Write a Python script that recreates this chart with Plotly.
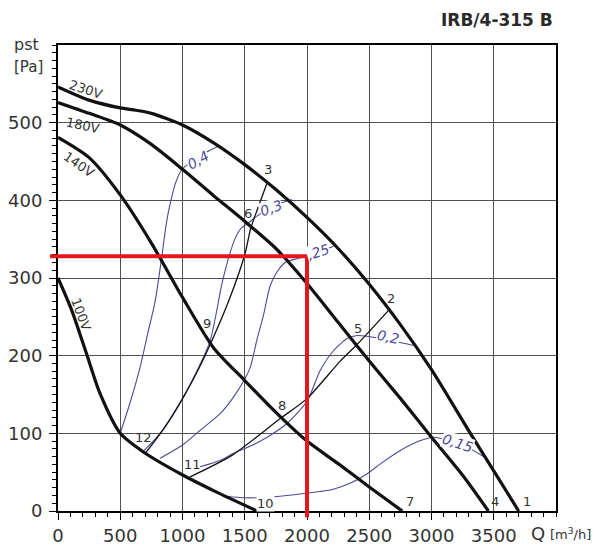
import plotly.graph_objects as go

# ---------------- data (Q in m3/h, p_st in Pa) ----------------
Q_MAX, P_MAX = 4000, 600
x_ticks = [0, 500, 1000, 1500, 2000, 2500, 3000, 3500]
y_ticks = [0, 100, 200, 300, 400, 500]

# fan curves at different voltages
q_230 = [0, 250, 500, 625, 750, 1000, 1250, 1500, 1750, 2000, 2250, 2500, 2750, 3000, 3312, 3700]
p_230 = [546, 529, 519, 516, 512, 497, 474, 446, 414, 378, 338, 292, 240, 182, 100, 0]
q_180 = [0, 250, 500, 750, 1000, 1250, 1500, 1750, 2000, 2250, 2500, 2750, 3000, 3250, 3457]
p_180 = [526, 512, 497, 472, 440, 406, 373, 338, 293, 243, 193, 145, 95, 46, 0]
q_140 = [0, 250, 500, 750, 1000, 1250, 1500, 1750, 2000, 2250, 2500, 2765]
p_140 = [481, 455, 407, 345, 275, 210, 168, 127, 90, 61, 31, 0]
q_100 = [0, 111, 228, 338, 500, 686, 1005, 1278, 1600]
p_100 = [300, 258, 203, 151, 100, 76, 46, 24, 0]

# system curves (thin black)
q_sysA = [700, 850, 1005, 1120, 1235, 1370, 1500, 1548, 1610, 1678]
p_sysA = [74, 106, 146, 180, 219, 270, 330, 364, 392, 422]
q_sysB = [1061, 1400, 1785, 2002, 2267, 2400, 2653]
p_sysB = [44, 72, 119, 145, 193, 214, 258]

# current iso-lines (thin blue)
q_i04 = [500, 580, 659, 720, 780, 836, 870, 900, 950, 997, 1040, 1150, 1240, 1290]
p_i04 = [100, 140, 185, 228, 270, 330, 370, 395, 425, 440, 446, 458, 466, 470]
q_i03 = [680, 800, 900, 1005, 1100, 1222, 1316, 1370, 1423, 1470, 1517, 1600, 1750, 1880]
p_i03 = [76, 96, 118, 146, 175, 219, 292, 326, 351, 364, 369, 380, 394, 401]
q_i025 = [820, 1000, 1142, 1300, 1407, 1500, 1544, 1600, 1650, 1704, 1760, 1825, 1900, 1970, 2100, 2211]
p_i025 = [68, 85, 104, 125, 146, 170, 185, 222, 252, 290, 308, 320, 324, 327, 334, 341]
q_i02 = [1142, 1300, 1407, 1550, 1680, 1841, 2002, 2106, 2211, 2323, 2404, 2600, 2854]
p_i02 = [57, 65, 74, 84, 95, 113, 142, 181, 206, 222, 226, 222, 213]
q_i015 = [1350, 1500, 1700, 1900, 2100, 2211, 2350, 2484, 2600, 2750, 2900, 3015, 3250, 3450]
p_i015 = [19, 17, 18, 21, 25, 28, 36, 48, 62, 78, 90, 95, 85, 67]

# operating point (red)
op_q, op_p = 2000, 328
red_q = [-64, op_q, op_q]
red_p = [op_p, op_p, -8]

# labels
volt_text = ["230V", "180V", "140V", "100V"]
volt_q = [225, 201, 169, 185]
volt_p = [543, 497, 446, 253]
volt_ang = [18, 12, 35, 70]

num_text = ["1", "2", "3", "4", "5", "6", "7", "8", "9", "10", "11", "12"]
num_q = [3771, 2678, 1688, 3514, 2412, 1528, 2830, 1801, 1198, 1664, 1077, 683]
num_p = [12, 274, 440, 12, 235, 383, 12, 136, 242, 10, 60, 95]

cur_text = ["0,4", "0,3", ",25", "0,2", "0,15"]
cur_q = [1126, 1713, 2085, 2653, 3208]
cur_p = [452, 390, 334, 224, 87]
cur_ang = [-30, -20, -18, 12, 18]

title_text = "IRB/4-315 B"

# ---------------- geometry (reference pixel coordinates) ----------------
W, H = 600, 549
OFF = 8                        # default page body margin of the html page
ML, MR, MT, MB = 30, 44, 45, 20
AX_L, AX_B = 58, 511           # pixel position of axis origin
pw, ph = W - ML - MR, H - MT - MB
xd0 = (AX_L - ML) / pw
yd0 = (H - MB - AX_B) / ph
x2_left = -xd0 / (1 - xd0) * Q_MAX
y2_bot = -yd0 / (1 - yd0) * P_MAX

def px(xp):
    return (xp - ML) / pw

def py(yp):
    return (H - MB - yp) / ph

BLUE = "#4a4a98"
TXT = "#333333"

fig = go.Figure()

def add_line(q, p, color, width):
    fig.add_trace(go.Scatter(x=q, y=p, mode="lines",
                             line=dict(color=color, width=width, shape="spline", smoothing=0.7),
                             hoverinfo="skip", showlegend=False))

for q, p in [(q_i04, p_i04), (q_i03, p_i03), (q_i025, p_i025), (q_i02, p_i02), (q_i015, p_i015)]:
    add_line(q, p, BLUE, 1.1)
for q, p in [(q_sysA, p_sysA), (q_sysB, p_sysB)]:
    add_line(q, p, "#111111", 1.3)
for q, p in [(q_230, p_230), (q_180, p_180), (q_140, p_140), (q_100, p_100)]:
    add_line(q, p, "#111111", 3.2)

fig.add_trace(go.Scatter(x=red_q, y=red_p, xaxis="x2", yaxis="y2", mode="lines",
                         line=dict(color="#e4161e", width=4), hoverinfo="skip", showlegend=False))

ann = []
for t, q, p, a in zip(volt_text, volt_q, volt_p, volt_ang):
    ann.append(dict(x=q, y=p, xref="x", yref="y", text=t, showarrow=False, textangle=a,
                    font=dict(family="DejaVu Sans", size=13, color=TXT)))
for t, q, p in zip(num_text, num_q, num_p):
    a = dict(x=q, y=p, xref="x", yref="y", text=t, showarrow=False, borderpad=0,
             font=dict(family="DejaVu Sans", size=13, color=TXT))
    if t == "10":
        a["bgcolor"] = "white"
    ann.append(a)
for t, q, p, a in zip(cur_text, cur_q, cur_p, cur_ang):
    ann.append(dict(x=q, y=p, xref="x", yref="y", text="<i>" + t + "</i>", showarrow=False, textangle=a,
                    font=dict(family="DejaVu Sans", size=14, color=BLUE), bgcolor="white", borderpad=0))

ann += [
    dict(x=px(555), y=py(20), xref="paper", yref="paper", text="<b>" + title_text + "</b>",
         showarrow=False, xanchor="right", yanchor="middle",
         font=dict(family="DejaVu Sans", size=17, color="#2a2a2a")),
    dict(x=px(12), y=py(44), xref="paper", yref="paper", text="pst", showarrow=False,
         xanchor="left", yanchor="middle", font=dict(family="DejaVu Sans", size=16, color=TXT)),
    dict(x=px(12), y=py(67), xref="paper", yref="paper", text="[Pa]", showarrow=False,
         xanchor="left", yanchor="middle", font=dict(family="DejaVu Sans", size=15, color=TXT)),
    dict(x=px(529), y=py(533), xref="paper", yref="paper", text="Q", showarrow=False,
         xanchor="left", yanchor="middle", font=dict(family="DejaVu Sans", size=18, color=TXT)),
    dict(x=px(548), y=py(534), xref="paper", yref="paper", text="[m<sup>3</sup>/h]", showarrow=False,
         xanchor="left", yanchor="middle", font=dict(family="DejaVu Sans", size=13, color=TXT)),
]

tickfont = dict(family="DejaVu Sans", size=18, color=TXT)
fig.update_layout(
    width=W - OFF, height=H - OFF,
    margin=dict(l=ML - OFF, r=MR, t=MT - OFF, b=MB, pad=0, autoexpand=False),
    paper_bgcolor="white", plot_bgcolor="rgba(0,0,0,0)", showlegend=False,
    xaxis=dict(domain=[xd0, 1], range=[0, Q_MAX], tickmode="array", tickvals=x_ticks,
               ticktext=[str(v) for v in x_ticks], showgrid=True, gridcolor="#505050", gridwidth=1,
               showline=True, linecolor="black", linewidth=2, mirror=True, zeroline=False,
               ticks="outside", ticklen=7, tickwidth=1.3, tickcolor="black", tickfont=tickfont,
               minor=dict(dtick=100, tick0=0, ticks="outside", ticklen=4, tickwidth=1, tickcolor="black",
                          showgrid=False),
               anchor="y", fixedrange=True, automargin=False),
    yaxis=dict(domain=[yd0, 1], range=[0, P_MAX], tickmode="array", tickvals=y_ticks,
               ticktext=[str(v) for v in y_ticks], showgrid=True, gridcolor="#505050", gridwidth=1,
               showline=True, linecolor="black", linewidth=2, mirror=True, zeroline=False,
               ticks="outside", ticklen=7, tickwidth=1.3, tickcolor="black", tickfont=tickfont,
               ticklabelstandoff=3,
               minor=dict(dtick=10, tick0=0, ticks="outside", ticklen=4, tickwidth=1, tickcolor="black",
                          showgrid=False),
               anchor="x", fixedrange=True, automargin=False),
    xaxis2=dict(domain=[0, 1], range=[x2_left, Q_MAX], visible=False, anchor="y2", fixedrange=True),
    yaxis2=dict(domain=[0, 1], range=[y2_bot, P_MAX], visible=False, anchor="x2", fixedrange=True),
    annotations=ann,
)

fig.write_html("out.html")
